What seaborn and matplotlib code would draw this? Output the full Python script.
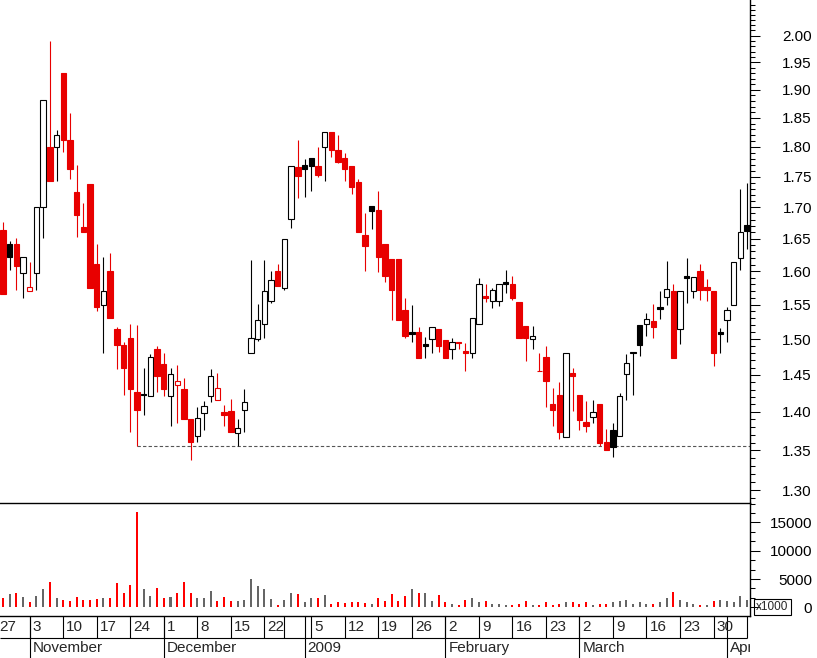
import numpy as np
import pandas as pd
import matplotlib
matplotlib.use('Agg')
import matplotlib.pyplot as plt
from matplotlib.patches import Rectangle
from matplotlib.ticker import NullFormatter
import seaborn as sns

# trading days; Oct 27 2008 has no candle, it only gives the first week mark
days = pd.bdate_range('2008-10-27', '2009-04-06')
days = days.drop(pd.to_datetime(['2008-12-25', '2008-12-26', '2009-01-01']))

# daily prices from Oct 28 2008 on
opens = [1.663, 1.642, 1.642, 1.597, 1.570, 1.597, 1.700, 1.800, 1.799, 1.931,
         1.812, 1.725, 1.668, 1.738, 1.611, 1.550, 1.600, 1.515, 1.492, 1.502,
         1.427, 1.424, 1.421, 1.486, 1.465, 1.421, 1.436, 1.431, 1.390, 1.368,
         1.398, 1.421, 1.416, 1.400, 1.401, 1.372, 1.402, 1.480, 1.500, 1.521,
         1.556, 1.600, 1.574, 1.681, 1.766, 1.769, 1.781, 1.768, 1.799, 1.825,
         1.795, 1.781, 1.768, 1.741, 1.656, 1.702, 1.695, 1.642, 1.619, 1.619,
         1.542, 1.510, 1.510, 1.493, 1.500, 1.515, 1.499, 1.486, 1.496, 1.483,
         1.480, 1.521, 1.562, 1.556, 1.556, 1.583, 1.581, 1.554, 1.519, 1.500,
         1.456, 1.475, 1.411, 1.423, 1.367, 1.452, 1.422, 1.387, 1.393, 1.411,
         1.361, 1.376, 1.368, 1.451, 1.482, 1.520, 1.521, 1.526, 1.547, 1.561,
         1.570, 1.515, 1.592, 1.570, 1.600, 1.576, 1.570, 1.510, 1.527, 1.550,
         1.620, 1.672]
highs = [1.677, 1.647, 1.651, 1.621, 1.614, 1.700, 1.882, 1.990, 1.829, 1.931,
         1.859, 1.769, 1.707, 1.738, 1.642, 1.622, 1.628, 1.518, 1.496, 1.522,
         1.520, 1.460, 1.479, 1.490, 1.481, 1.460, 1.464, 1.446, 1.390, 1.406,
         1.414, 1.458, 1.453, 1.409, 1.417, 1.391, 1.431, 1.617, 1.551, 1.617,
         1.600, 1.611, 1.650, 1.767, 1.812, 1.779, 1.781, 1.800, 1.825, 1.825,
         1.820, 1.789, 1.768, 1.746, 1.691, 1.702, 1.726, 1.642, 1.619, 1.619,
         1.560, 1.549, 1.517, 1.503, 1.517, 1.515, 1.499, 1.501, 1.496, 1.494,
         1.530, 1.590, 1.580, 1.574, 1.580, 1.602, 1.593, 1.554, 1.519, 1.519,
         1.481, 1.490, 1.432, 1.440, 1.480, 1.460, 1.422, 1.415, 1.416, 1.411,
         1.378, 1.386, 1.425, 1.479, 1.482, 1.520, 1.538, 1.551, 1.570, 1.616,
         1.581, 1.570, 1.620, 1.591, 1.611, 1.588, 1.570, 1.516, 1.546, 1.614,
         1.730, 1.740]
lows = [1.566, 1.601, 1.571, 1.560, 1.570, 1.571, 1.651, 1.742, 1.742, 1.792,
        1.746, 1.653, 1.661, 1.574, 1.541, 1.481, 1.530, 1.458, 1.422, 1.373,
        1.356, 1.396, 1.421, 1.427, 1.421, 1.381, 1.386, 1.391, 1.338, 1.361,
        1.376, 1.413, 1.416, 1.382, 1.373, 1.356, 1.374, 1.480, 1.498, 1.502,
        1.553, 1.577, 1.571, 1.666, 1.715, 1.717, 1.727, 1.750, 1.742, 1.783,
        1.772, 1.743, 1.722, 1.661, 1.600, 1.665, 1.599, 1.583, 1.527, 1.528,
        1.501, 1.496, 1.473, 1.474, 1.481, 1.482, 1.473, 1.472, 1.486, 1.455,
        1.473, 1.521, 1.554, 1.545, 1.548, 1.567, 1.557, 1.502, 1.469, 1.486,
        1.455, 1.406, 1.382, 1.365, 1.367, 1.401, 1.376, 1.373, 1.386, 1.355,
        1.350, 1.341, 1.368, 1.416, 1.422, 1.476, 1.504, 1.501, 1.529, 1.550,
        1.473, 1.493, 1.553, 1.560, 1.557, 1.556, 1.463, 1.481, 1.496, 1.550,
        1.601, 1.634]
closes = [1.566, 1.622, 1.607, 1.621, 1.576, 1.700, 1.882, 1.742, 1.820, 1.812,
          1.762, 1.688, 1.661, 1.574, 1.546, 1.570, 1.531, 1.492, 1.460, 1.431,
          1.402, 1.422, 1.475, 1.448, 1.431, 1.451, 1.442, 1.391, 1.361, 1.392,
          1.408, 1.449, 1.432, 1.396, 1.373, 1.379, 1.413, 1.501, 1.527, 1.570,
          1.586, 1.577, 1.650, 1.767, 1.751, 1.762, 1.768, 1.753, 1.825, 1.795,
          1.775, 1.762, 1.733, 1.661, 1.639, 1.694, 1.622, 1.593, 1.571, 1.528,
          1.504, 1.507, 1.473, 1.491, 1.517, 1.491, 1.474, 1.496, 1.495, 1.481,
          1.530, 1.580, 1.560, 1.572, 1.580, 1.581, 1.560, 1.502, 1.501, 1.504,
          1.455, 1.442, 1.402, 1.373, 1.480, 1.448, 1.389, 1.381, 1.400, 1.360,
          1.350, 1.354, 1.421, 1.466, 1.480, 1.492, 1.529, 1.518, 1.544, 1.573,
          1.473, 1.570, 1.589, 1.591, 1.572, 1.572, 1.481, 1.507, 1.542, 1.614,
          1.661, 1.662]
volume = [1680, 2385, 2560, 1855, 970, 2030, 3270, 4505, 1680, 1325,
          1150, 1855, 1325, 1325, 1500, 1680, 1680, 4330, 2560, 3975,
          16875, 3270, 2030, 3445, 1680, 1855, 2560, 4505, 2560, 1680,
          1680, 2915, 1150, 1855, 1150, 1150, 1325, 5035, 3800, 3270,
          1500, 440, 1325, 2560, 2385, 970, 1680, 1680, 2210, 620,
          970, 795, 970, 970, 795, 620, 1680, 1150, 2385, 1150,
          2030, 3270, 2560, 2560, 1150, 2210, 970, 620, 440, 1325,
          1680, 970, 1150, 620, 620, 440, 440, 620, 1150, 390,
          390, 970, 440, 620, 970, 970, 620, 970, 390, 620,
          620, 970, 1200, 1325, 620, 970, 620, 620, 970, 1560,
          2740, 1325, 970, 620, 390, 390, 1200, 1325, 1200, 970,
          2030, 1325]

price_ticks = [1.30, 1.35, 1.40, 1.45, 1.50, 1.55, 1.60, 1.65, 1.70, 1.75,
               1.80, 1.85, 1.90, 1.95, 2.00]
vol_ticks = [0, 5000, 10000, 15000]
support_from = '2008-11-25'
unlabelled_weeks = ['2008-12-29', '2009-04-06']

sns.set_style('white')
plt.rcParams['font.family'] = ['Liberation Sans', 'DejaVu Sans']

W, H = 817, 658
fig = plt.figure(figsize=(W / 100, H / 100), dpi=100)


def pane(top, bottom):
    a = fig.add_axes([0, 1 - bottom / H, 750 / W, (bottom - top) / H])
    a.patch.set_visible(False)
    return a


ax_p = pane(0, 503)
ax_v = pane(503, 616)
ax_d = pane(616, 658)

x = np.arange(1, len(closes) + 1)
xlim = (0.567, 112.44)

o, hi, lo, c = map(np.array, (opens, highs, lows, closes))
prev = np.r_[o[0], c[:-1]]
up_day = c > prev
down_day = c < prev

RED = '#e80000'
col = np.where(up_day, 'black', RED)
face = np.where(c > o, 'white', col)

# candles
ax_p.set_yscale('log')
ax_p.vlines(x, lo, hi, colors=col, lw=0.8, zorder=2)
ax_p.bar(x, np.abs(c - o), bottom=np.minimum(o, c), width=0.8, color=face,
         edgecolor=col, linewidth=0.8, zorder=3)

s = days.get_loc(pd.Timestamp(support_from))
ax_p.hlines(lo[s - 1], s, xlim[1], colors='#555555', linestyles=(0, (3, 2)),
            lw=0.8, zorder=1)

ax_p.set_xlim(xlim)
ax_p.set_ylim(1.2842, 2.0689)
ax_p.set_xticks([])
ax_p.yaxis.tick_right()
ax_p.set_yticks(price_ticks, [f'{t:.2f}' for t in price_ticks])
ax_p.set_yticks(np.arange(129, 207) / 100, minor=True)
ax_p.yaxis.set_minor_formatter(NullFormatter())

# volume
vol_df = pd.DataFrame({'x': x, 'volume': volume,
                       'move': np.where(down_day, 'down', 'up')})
sns.barplot(data=vol_df, x='x', y='volume', hue='move',
            palette={'down': '#ff0000', 'up': '#666666'}, native_scale=True,
            width=0.3, saturation=1, dodge=False, errorbar=None, legend=False,
            linewidth=0, ax=ax_v)
ax_v.set_xlim(xlim)
ax_v.set_ylim(-1537, 18430)
ax_v.set_xlabel('')
ax_v.set_ylabel('')
ax_v.set_xticks([])
ax_v.yaxis.tick_right()
ax_v.set_yticks(vol_ticks, [str(v) for v in vol_ticks])
ax_v.set_yticks(np.arange(0, 18400, 5000 / 3), minor=True)

for ax in (ax_p, ax_v):
    ax.spines[['top', 'left']].set_visible(False)
    ax.spines[['right', 'bottom']].set_color('black')
    ax.spines[['right', 'bottom']].set_linewidth(1)
    ax.tick_params(axis='y', which='major', direction='out', length=7.2,
                   width=0.75, pad=37.4, labelsize=11, colors='black')
    ax.tick_params(axis='y', which='minor', direction='out', length=3.6,
                   width=0.75, colors='black')
    for t in ax.get_yticklabels():
        t.set_horizontalalignment('right')

fig.add_artist(Rectangle((754 / W, 1 - 615 / H), 37 / W, 16 / H,
                         transform=fig.transFigure, fill=False, lw=0.8,
                         ec='black'))
fig.text(772.5 / W, 1 - 607 / H, 'x1000', fontsize=8.5, ha='center',
         va='center')

# date axis: week marks on top row, months below
ax_d.set_xlim(xlim)
ax_d.set_ylim(0, 1)
ax_d.axis('off')
pos = np.arange(len(days))
weeks = days.isocalendar().week.to_numpy()
months = np.asarray(days.month)
week_start = np.r_[True, weeks[1:] != weeks[:-1]]
month_start = np.r_[False, months[1:] != months[:-1]]
mid = 0.488
ax_d.hlines(mid, xlim[0], pos[-1], colors='black', lw=0.8)
ax_d.vlines(pos[week_start], mid, 1, colors='black', lw=0.8)
ax_d.vlines(pos[month_start], 0, 1, colors='black', lw=0.8)

for k in pos[week_start]:
    d = days[k]
    if d.strftime('%Y-%m-%d') in unlabelled_weeks:
        continue
    t = ax_d.text(k + 0.45, 0.74, str(d.day), fontsize=11, va='center',
                  clip_on=True)
    t.set_clip_box(ax_d.bbox)
for k in pos[month_start]:
    d = days[k]
    name = str(d.year) if d.month == 1 else d.strftime('%B')
    t = ax_d.text(k + 0.45, 0.24, name, fontsize=11, va='center',
                  clip_on=True)
    t.set_clip_box(ax_d.bbox)

fig.savefig('out.png', dpi=100)
